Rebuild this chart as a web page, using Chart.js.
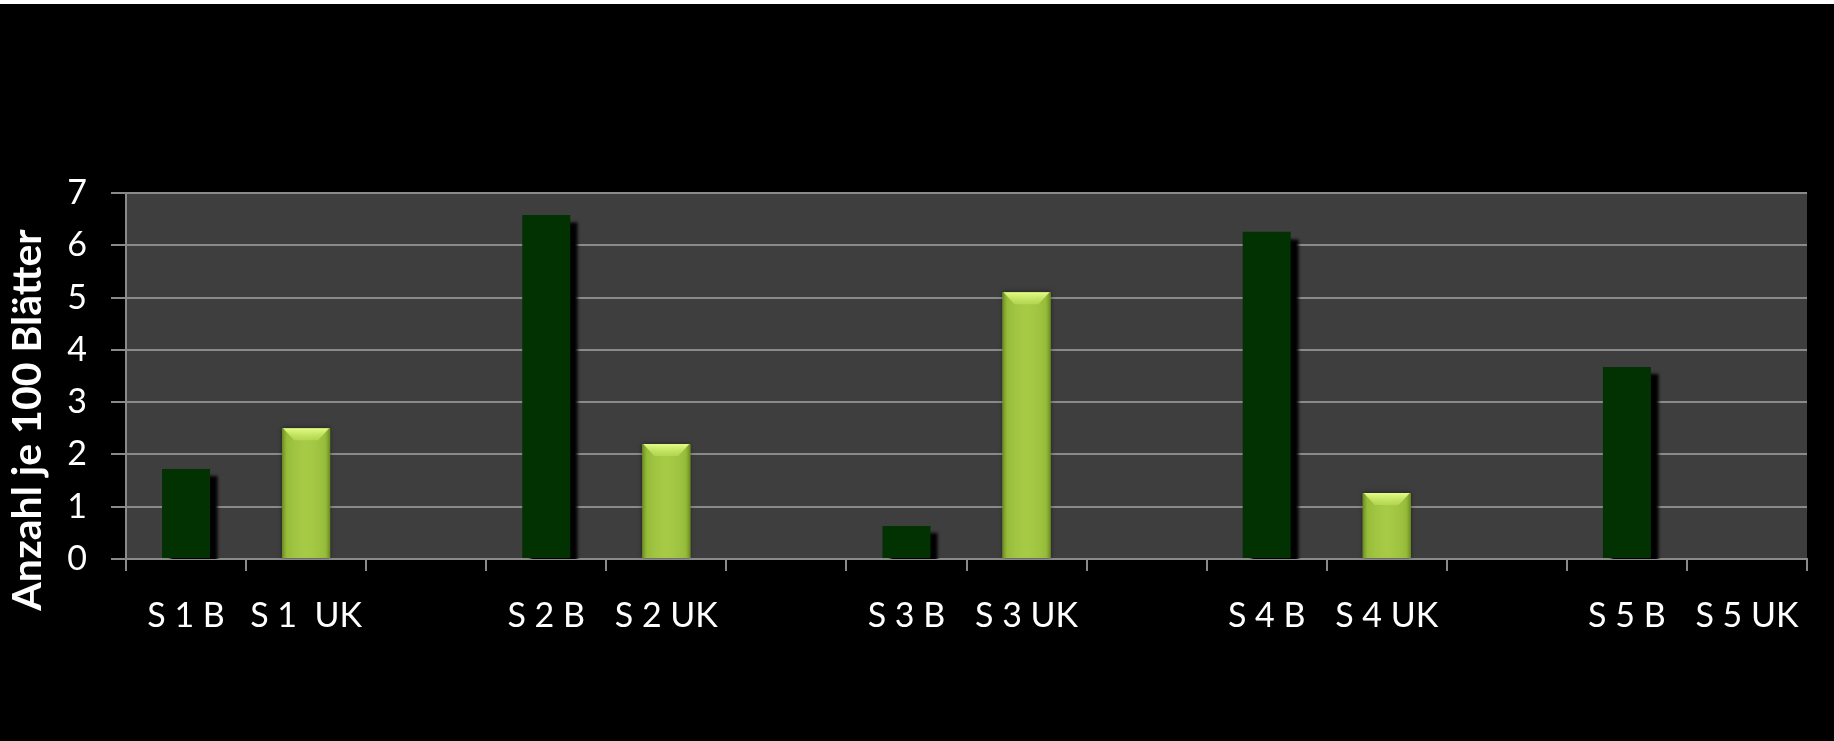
<!DOCTYPE html>
<html>
<head>
<meta charset="utf-8">
<script src="https://cdn.jsdelivr.net/npm/chart.js@4.4.1/dist/chart.umd.min.js"></script>
<style>
  html, body { margin: 0; padding: 0; background: #000; }
  #wrap { position: relative; width: 1834px; height: 741px; background: #000; }
  #topline { position: absolute; left: 0; top: 0; width: 1834px; height: 4px; background: #fff; z-index: 2; }
  #c { position: absolute; left: 0; top: 0; }
</style>
</head>
<body>
<div id="wrap">
  <div id="topline"></div>
  <canvas id="c" width="1834" height="741"></canvas>
</div>
<script>
// Sites and their counts per 100 leaves (B and UK samples)
const sites = ['S 1', 'S 2', 'S 3', 'S 4', 'S 5'];
const bValues = [1.72, 6.58, 0.63, 6.26, 3.67];
const ukValues = [2.5, 2.2, 5.1, 1.26, 0];

// Category axis labels: B, UK, then an empty spacer slot per site
const categories = ['S 1 B', 'S 1  UK', '', 'S 2 B', 'S 2 UK', '', 'S 3 B', 'S 3 UK', '', 'S 4 B', 'S 4 UK', '', 'S 5 B', 'S 5 UK'];
const yTicks = [0, 1, 2, 3, 4, 5, 6, 7];
const axisTitle = 'Anzahl je 100 Blätter';

// Spread the per-site values over the 3-slot category layout
const bSeries = [];
const ukSeries = [];
sites.forEach((s, i) => {
  bSeries.push(bValues[i], null, null);
  ukSeries.push(null, ukValues[i], null);
});
bSeries.length = categories.length;
ukSeries.length = categories.length;

const FONT = 'Lato, "Open Sans", sans-serif';

// Dark grey plot background
const plotBg = {
  id: 'plotBg',
  beforeDraw(chart) {
    const { ctx, chartArea: a } = chart;
    ctx.save();
    ctx.fillStyle = '#3e3e3e';
    ctx.fillRect(a.left, a.top, a.right - a.left, a.bottom - a.top);
    ctx.restore();
  }
};

// Drop shadow under the dark bars, soft dark rim around the light bars
const barShadow = {
  id: 'barShadow',
  beforeDatasetDraw(chart, args) {
    const ctx = chart.ctx;
    ctx.save();
    if (args.index === 0) {
      ctx.shadowColor = 'rgba(0,0,0,1)';
      ctx.shadowOffsetX = 8;
      ctx.shadowOffsetY = 7;
      ctx.shadowBlur = 3;
    } else {
      ctx.shadowColor = 'rgba(0,0,0,0.55)';
      ctx.shadowOffsetX = 0;
      ctx.shadowOffsetY = 0;
      ctx.shadowBlur = 5;
    }
  },
  afterDatasetDraw(chart, args) {
    const ctx = chart.ctx;
    ctx.restore();
    if (args.index !== 1) return;
    // bevel shading on the light bars
    const meta = chart.getDatasetMeta(1);
    meta.data.forEach((el) => {
      const p = el.getProps(['x', 'y', 'base', 'width'], true);
      if (p.y == null || isNaN(p.y) || Math.abs(p.base - p.y) < 1) return;
      const l = p.x - p.width / 2, r = p.x + p.width / 2;
      const t = p.y, b = p.base;
      ctx.save();
      const g = ctx.createLinearGradient(l, 0, r, 0);
      g.addColorStop(0, 'rgba(90,120,20,0.8)');
      g.addColorStop(0.1, 'rgba(120,160,40,0.3)');
      g.addColorStop(0.5, 'rgba(190,220,90,0.12)');
      g.addColorStop(0.9, 'rgba(120,160,40,0.3)');
      g.addColorStop(1, 'rgba(90,120,20,0.8)');
      ctx.fillStyle = g;
      ctx.fillRect(l, t, r - l, b - t);
      // chevron highlight at the top
      const d = Math.min(12, (b - t) / 2);
      const cg = ctx.createLinearGradient(0, t, 0, t + d);
      cg.addColorStop(0, 'rgba(228,252,135,1)');
      cg.addColorStop(1, 'rgba(200,235,100,0.4)');
      ctx.fillStyle = cg;
      ctx.beginPath();
      ctx.moveTo(l + 1, t);
      ctx.lineTo(r - 1, t);
      ctx.lineTo(r - 12, t + d);
      ctx.lineTo(l + 12, t + d);
      ctx.closePath();
      ctx.fill();
      ctx.restore();
    });
  }
};

// Rotated axis title at the left edge
const yTitle = {
  id: 'yTitle',
  afterDraw(chart) {
    const ctx = chart.ctx;
    ctx.save();
    ctx.translate(28, 420);
    ctx.rotate(-Math.PI / 2);
    ctx.fillStyle = '#ffffff';
    ctx.font = 'bold 41px ' + FONT;
    ctx.textAlign = 'center';
    ctx.textBaseline = 'middle';
    ctx.fillText(axisTitle, 0, 0);
    ctx.restore();
  }
};

new Chart(document.getElementById('c'), {
  type: 'bar',
  data: {
    labels: categories,
    datasets: [
      {
        label: 'B',
        data: bSeries,
        backgroundColor: '#023202',
        borderWidth: 0
      },
      {
        label: 'UK',
        data: ukSeries,
        backgroundColor: '#a3c843',
        borderWidth: 0
      }
    ]
  },
  options: {
    responsive: false,
    animation: false,
    devicePixelRatio: 1,
    layout: { padding: { top: 193, right: 27, left: 0, bottom: 0 } },
    datasets: {
      bar: { grouped: false, barPercentage: 0.4, categoryPercentage: 1 }
    },
    plugins: {
      legend: { display: false },
      tooltip: { enabled: false },
      title: { display: false }
    },
    scales: {
      x: {
        offset: true,
        afterFit(scale) { scale.height = 182; },
        grid: {
          offset: true,
          drawOnChartArea: false,
          drawTicks: true,
          tickLength: 12,
          color: '#8a8a8a',
          lineWidth: 2
        },
        border: { display: true, color: '#8a8a8a', width: 2 },
        ticks: {
          color: '#ffffff',
          font: { family: FONT, size: 34 },
          padding: 25,
          maxRotation: 0,
          autoSkip: false
        }
      },
      y: {
        min: 0,
        max: 7,
        afterFit(scale) { scale.width = 126; },
        afterBuildTicks(scale) { scale.ticks = yTicks.map(v => ({ value: v })); },
        grid: {
          color: '#8a8a8a',
          lineWidth: 2,
          tickLength: 15
        },
        border: { display: true, color: '#8a8a8a', width: 2 },
        ticks: {
          color: '#ffffff',
          font: { family: FONT, size: 34 },
          padding: 24
        }
      }
    }
  },
  plugins: [plotBg, barShadow, yTitle]
});
</script>
</body>
</html>
